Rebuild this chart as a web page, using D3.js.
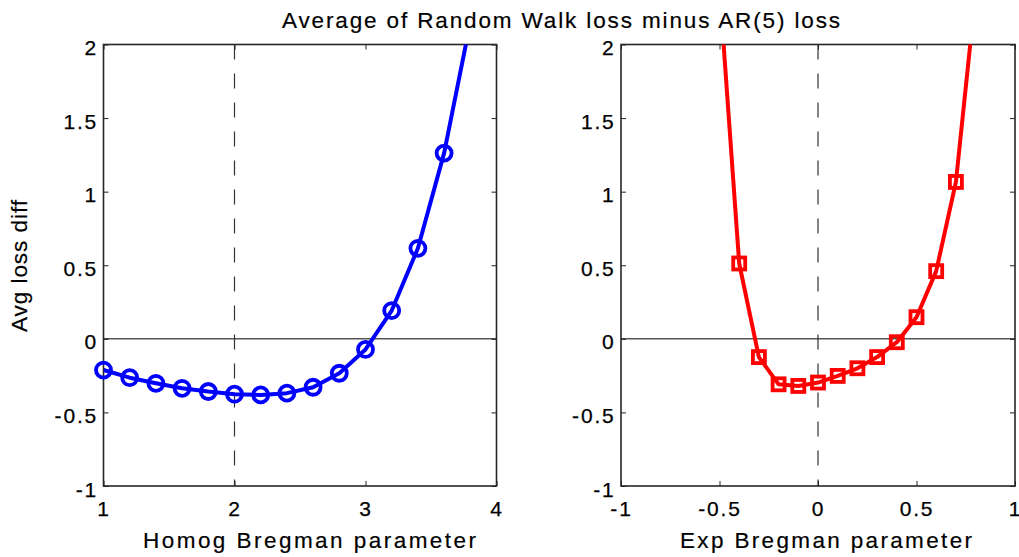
<!DOCTYPE html>
<html>
<head>
<meta charset="utf-8">
<script src="https://cdn.jsdelivr.net/npm/d3@7/dist/d3.min.js"></script>
<style>
body { margin:0; background:#fff; }
svg { display:block; font-family:"Liberation Sans", Arial, sans-serif; }
.tick text { font-size:21px; letter-spacing:1.8px; fill:#000; stroke:#000; stroke-width:0.25px; }
.label { font-size:22.5px; fill:#000; stroke:#000; stroke-width:0.2px; }
</style>
</head>
<body>
<svg id="graph"></svg>
<script>
// data
var homogParam = [1, 1.2, 1.4, 1.6, 1.8, 2, 2.2, 2.4, 2.6, 2.8, 3, 3.2, 3.4, 3.6, 3.8]
var homogDiff = [-0.212, -0.264, -0.302, -0.336, -0.358, -0.376, -0.381, -0.369, -0.329, -0.234, -0.072, 0.192, 0.615, 1.262, 2.15]

var expParam = [-0.5, -0.4, -0.3, -0.2, -0.1, 0, 0.1, 0.2, 0.3, 0.4, 0.5, 0.6, 0.7, 0.8]
var expDiff = [2.39, 0.512, -0.124, -0.309, -0.320, -0.297, -0.252, -0.200, -0.124, -0.023, 0.147, 0.46, 1.066, 2.35]

var homogTicks = [1, 2, 3, 4]
var expTicks = [-1, -0.5, 0, 0.5, 1]
var yTicks = [-1, -0.5, 0, 0.5, 1, 1.5, 2]

var titleText = "Average of Random Walk loss minus AR(5) loss"
var yLabel = "Avg loss diff"

var screen = {width:1019, height:557}
var svg = d3.select("#graph")
    .attr("width", screen.width)
    .attr("height", screen.height)

// plain hyphen minus like the original
var fmt = function(d) { return String(d) }

var drawPanel = function(opt)
{
    var xScale = d3.scaleLinear()
        .domain(opt.xDomain)
        .range([opt.left, opt.right])
    var yScale = d3.scaleLinear()
        .domain([-1, 2])
        .range([opt.bottom, opt.top])

    var g = svg.append("g")

    g.append("clipPath")
        .attr("id", opt.id + "clip")
        .append("rect")
        .attr("x", opt.left)
        .attr("y", opt.top)
        .attr("width", opt.right - opt.left)
        .attr("height", opt.bottom - opt.top)

    // zero line
    g.append("line")
        .attr("x1", opt.left).attr("x2", opt.right)
        .attr("y1", yScale(0)).attr("y2", yScale(0))
        .attr("stroke", "#000")
        .attr("stroke-width", 1)

    // dashed reference line
    g.append("line")
        .attr("x1", xScale(opt.refX)).attr("x2", xScale(opt.refX))
        .attr("y1", opt.top).attr("y2", opt.bottom)
        .attr("stroke", "#333")
        .attr("stroke-width", 1.2)
        .attr("stroke-dasharray", "15,14")

    // axes
    var xAxis = d3.axisBottom(xScale).tickValues(opt.xTicks).tickSizeInner(-5).tickSizeOuter(0).tickPadding(15).tickFormat(fmt)
    var xTop = d3.axisTop(xScale).tickValues(opt.xTicks).tickSizeInner(-5).tickSizeOuter(0).tickFormat("")
    var yAxis = d3.axisLeft(yScale).tickValues(yTicks).tickSizeInner(-5).tickSizeOuter(0).tickPadding(5.5).tickFormat(fmt)
    var yRight = d3.axisRight(yScale).tickValues(yTicks).tickSizeInner(-5).tickSizeOuter(0).tickFormat("")

    g.append("g").attr("transform", "translate(0," + opt.bottom + ")").call(xAxis)
    g.append("g").attr("transform", "translate(0," + opt.top + ")").call(xTop)
    var ly = g.append("g").attr("transform", "translate(" + opt.left + ",0)").call(yAxis)
    g.append("g").attr("transform", "translate(" + opt.right + ",0)").call(yRight)

    g.selectAll(".domain").remove()
    g.selectAll(".tick line").attr("stroke", "#222")
    g.selectAll(".tick text").attr("font-family", null).attr("font-size", null)
    ly.selectAll(".tick text").attr("dy", "0.48em")

    g.append("rect")
        .attr("x", opt.left).attr("y", opt.top)
        .attr("width", opt.right - opt.left)
        .attr("height", opt.bottom - opt.top)
        .attr("fill", "none")
        .attr("stroke", "#262626")
        .attr("stroke-width", 1.6)

    var pts = opt.xs.map(function(x, i) { return {x:x, y:opt.ys[i]} })

    var line = d3.line()
        .x(function(d) { return xScale(d.x) })
        .y(function(d) { return yScale(d.y) })

    g.append("path")
        .datum(pts)
        .attr("clip-path", "url(#" + opt.id + "clip)")
        .attr("d", line)
        .attr("fill", "none")
        .attr("stroke", opt.color)
        .attr("stroke-width", 4)
        .attr("stroke-linejoin", "round")

    var shown = pts.filter(function(d) { return d.y <= 2 && d.y >= -1 })

    if (opt.marker == "circle") {
        g.selectAll("circle.mk")
            .data(shown)
            .enter()
            .append("circle")
            .attr("class", "mk")
            .attr("cx", function(d) { return xScale(d.x) })
            .attr("cy", function(d) { return yScale(d.y) })
            .attr("r", 7.5)
            .attr("fill", "none")
            .attr("stroke", opt.color)
            .attr("stroke-width", 3.8)
    } else {
        g.selectAll("rect.mk")
            .data(shown)
            .enter()
            .append("rect")
            .attr("class", "mk")
            .attr("x", function(d) { return xScale(d.x) - 6 })
            .attr("y", function(d) { return yScale(d.y) - 6 })
            .attr("width", 12)
            .attr("height", 12)
            .attr("fill", "none")
            .attr("stroke", opt.color)
            .attr("stroke-width", 3.8)
    }

    // x label
    svg.append("text")
        .text(opt.xLabel)
        .classed("label", true)
        .attr("x", opt.labelX)
        .attr("y", 548)
        .attr("textLength", opt.labelW)
        .attr("lengthAdjust", "spacing")
}

drawPanel({
    id:"homog", left:103.5, right:496.5, top:44.5, bottom:486,
    xDomain:[1, 4], xTicks:homogTicks, refX:2,
    xs:homogParam, ys:homogDiff, color:"#0000ff", marker:"circle",
    xLabel:"Homog Bregman parameter", labelX:143, labelW:333
})

drawPanel({
    id:"exp", left:621, right:1015, top:44.5, bottom:486,
    xDomain:[-1, 1], xTicks:expTicks, refX:0,
    xs:expParam, ys:expDiff, color:"#ff0000", marker:"square",
    xLabel:"Exp Bregman parameter", labelX:680, labelW:292
})

//title
svg.append("text")
    .text(titleText)
    .classed("label", true)
    .attr("x", 282)
    .attr("y", 27.5)
    .attr("textLength", 558)
    .attr("lengthAdjust", "spacing")

//y label
svg.append("g")
    .attr("transform", "translate(27,332)")
    .append("text")
    .text(yLabel)
    .classed("label", true)
    .attr("transform", "rotate(-90)")
    .attr("textLength", 132)
    .attr("lengthAdjust", "spacing")
</script>
</body>
</html>
